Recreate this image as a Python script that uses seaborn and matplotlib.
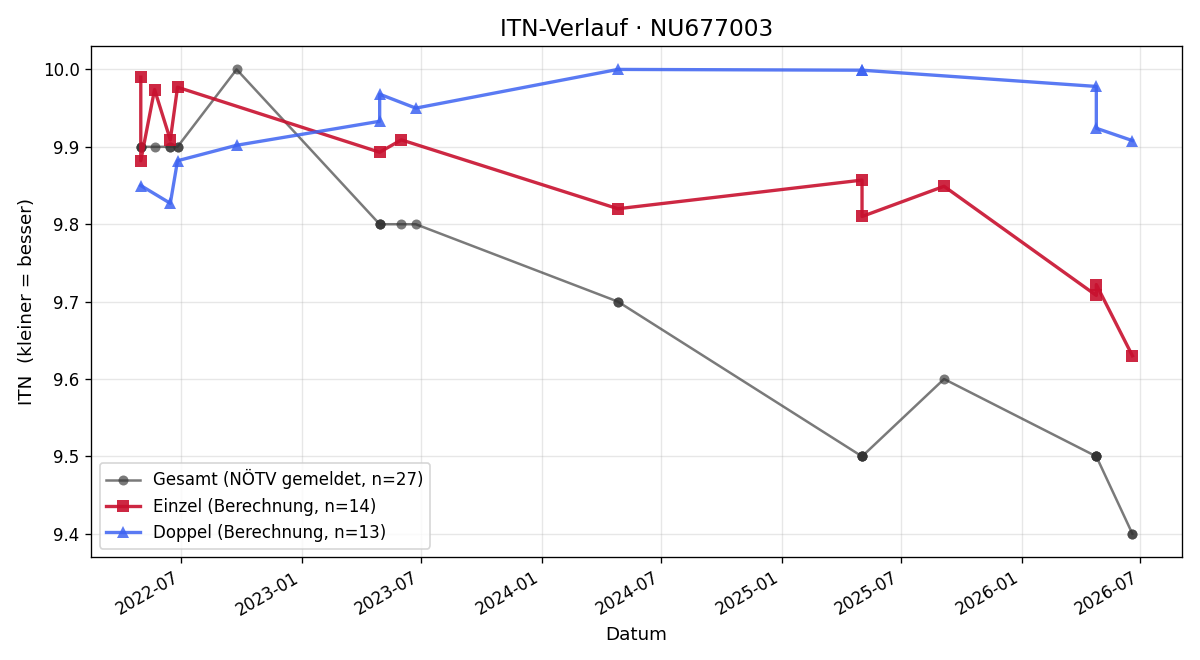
import pandas as pd
import numpy as np
import matplotlib.pyplot as plt
import matplotlib.dates as mdates
import seaborn as sns

# ------------------------------------------------------
#   Daten
# ------------------------------------------------------

gesamt_datum = [
    "2022-04-30", "2022-04-30", "2022-04-30", "2022-05-21", "2022-06-14",
    "2022-06-14", "2022-06-25", "2022-06-25", "2022-09-23", "2023-04-29",
    "2023-04-29", "2023-04-29", "2023-06-01", "2023-06-23", "2024-04-26",
    "2024-04-26", "2025-05-03", "2025-05-03", "2025-05-03", "2025-05-03",
    "2025-09-05", "2026-04-25", "2026-04-25", "2026-04-25", "2026-04-25",
    "2026-06-19", "2026-06-19",
]
gesamt_itn = [
    9.9, 9.9, 9.9, 9.9, 9.9,
    9.9, 9.9, 9.9, 10.0, 9.8,
    9.8, 9.8, 9.8, 9.8, 9.7,
    9.7, 9.5, 9.5, 9.5, 9.5,
    9.6, 9.5, 9.5, 9.5, 9.5,
    9.4, 9.4,
]

einzel_datum = [
    "2022-04-30", "2022-04-30", "2022-05-21", "2022-06-14", "2022-06-25",
    "2023-04-29", "2023-06-01", "2024-04-26", "2025-05-03", "2025-05-03",
    "2025-09-05", "2026-04-25", "2026-04-25", "2026-06-19",
]
einzel_itn = [
    9.990, 9.882, 9.974, 9.909, 9.977,
    9.893, 9.909, 9.820, 9.857, 9.810,
    9.849, 9.708, 9.722, 9.630,
]

doppel_datum = [
    "2022-04-30", "2022-06-14", "2022-06-25", "2022-09-23", "2023-04-29",
    "2023-04-29", "2023-06-23", "2024-04-26", "2025-05-03", "2025-05-03",
    "2026-04-25", "2026-04-25", "2026-06-19",
]
doppel_itn = [
    9.850, 9.827, 9.882, 9.902, 9.933,
    9.968, 9.950, 10.000, 9.999, 9.999,
    9.978, 9.924, 9.908,
]

df_g = pd.DataFrame({"Datum": pd.to_datetime(gesamt_datum), "ITN": gesamt_itn})
df_e = pd.DataFrame({"Datum": pd.to_datetime(einzel_datum), "ITN": einzel_itn})
df_d = pd.DataFrame({"Datum": pd.to_datetime(doppel_datum), "ITN": doppel_itn})

# ------------------------------------------------------
#   Plot
# ------------------------------------------------------

fig, ax = plt.subplots(figsize=(10, 5.5), dpi=120)

sns.lineplot(data=df_g, x="Datum", y="ITN", ax=ax, sort=False, estimator=None,
             color="#333333", alpha=0.65, linewidth=1.5, marker="o",
             markersize=6, markeredgewidth=0,
             label=f"Gesamt (NÖTV gemeldet, n={len(df_g)})")
sns.lineplot(data=df_e, x="Datum", y="ITN", ax=ax, sort=False, estimator=None,
             color="#c8102e", alpha=0.9, linewidth=2, marker="s",
             markersize=7, markeredgewidth=0,
             label=f"Einzel (Berechnung, n={len(df_e)})")
sns.lineplot(data=df_d, x="Datum", y="ITN", ax=ax, sort=False, estimator=None,
             color="#3d63f2", alpha=0.85, linewidth=2, marker="^",
             markersize=7, markeredgewidth=0,
             label=f"Doppel (Berechnung, n={len(df_d)})")

ax.set_title("ITN-Verlauf · NU677003", fontsize=14)
ax.set_xlabel("Datum", fontsize=11)
ax.set_ylabel("ITN  (kleiner = besser)", fontsize=11)
ax.grid(True, alpha=0.3)
ax.xaxis.set_major_locator(mdates.MonthLocator(bymonth=[1, 7]))
ax.xaxis.set_major_formatter(mdates.DateFormatter("%Y-%m"))
ax.legend(loc="lower left", fontsize=10)
fig.autofmt_xdate()

plt.subplots_adjust(left=0.076, right=0.985, top=0.93, bottom=0.156)
plt.savefig("out.png")
